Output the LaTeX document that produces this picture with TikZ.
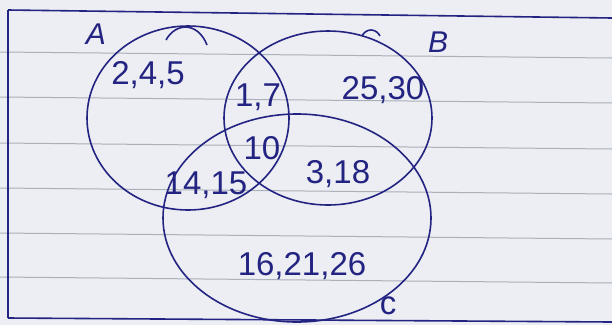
\documentclass[tikz,border=0pt]{standalone}
\usepackage{fontspec}
\setmainfont{Liberation Sans}
\definecolor{ink}{RGB}{35,35,130}
\definecolor{paper}{RGB}{236,238,243}
\definecolor{rule}{RGB}{170,175,185}
\begin{document}
\begin{tikzpicture}[x=1pt,y=-1pt,
  setline/.style={draw=ink,line width=1.6pt},
  elem/.style={text=ink,font=\fontsize{33}{36}\selectfont,inner sep=0pt},
  setlab/.style={text=ink,font=\fontsize{30}{34}\selectfont\itshape,inner sep=0pt},
  ruled/.style={draw=rule,line width=1pt}]
\fill[paper] (0,0) rectangle (612,325);
\useasboundingbox (0,0) rectangle (612,325);
% ruled paper lines
\foreach \y in {52,97,143,188,233,277}{
  \draw[ruled] (0,\y) -- (612,\y+6);
}
% frame
\draw[setline] (8,10) -- (612,18);
\draw[setline] (8,10) -- (8,318);
\draw[setline] (8,318) -- (612,322);
% sets
\draw[setline] (188,118) ellipse [x radius=101, y radius=92];
\draw[setline] (328,118) ellipse [x radius=104, y radius=87];
\draw[setline] (297,218) ellipse [x radius=134, y radius=104];
% small pen strokes
\draw[setline] (166,40) .. controls (176,22) and (198,22) .. (207,45);
\draw[setline] (362,36) .. controls (366,28) and (376,28) .. (380,36);
% labels
\node[setlab] (la) at (96,34) {A};
\node[setlab] (lb) at (438,42) {B};
\node[elem] (lc) at (388,306) {c};
% elements
\node[elem] (a) at (148,75) {2,4,5};
\node[elem] (ab) at (258,97) {1,7};
\node[elem] (b) at (383,90) {25,30};
\node[elem] (abc) at (262,148) {10};
\node[elem] (ac) at (206,185) {14,15};
\node[elem] (bc) at (338,174) {3,18};
\node[elem] (c) at (302,266) {16,21,26};
\end{tikzpicture}
\end{document}
